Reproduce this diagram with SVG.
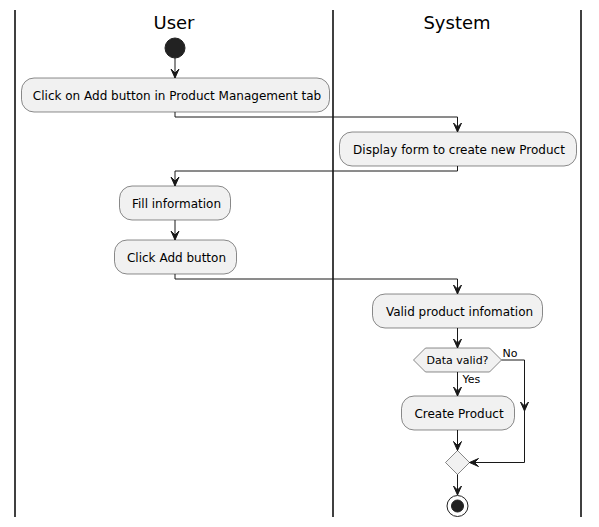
<svg xmlns="http://www.w3.org/2000/svg" width="599" height="527" viewBox="0 0 599 527">
<style>
.lane{stroke:#000;stroke-width:1.5;fill:none}
.title{font-family:"DejaVu Sans",sans-serif;font-size:18px;fill:#000;text-anchor:middle}
.act{fill:#F1F1F1;stroke:#181818;stroke-width:0.5}
.t{font-family:"DejaVu Sans",sans-serif;font-size:12px;fill:#000;text-anchor:middle}
.s{font-family:"DejaVu Sans",sans-serif;font-size:11px;fill:#000}
.ln{stroke:#181818;stroke-width:1;fill:none}
.ah{fill:#181818;stroke:#181818;stroke-width:1}
</style>
<rect width="599" height="527" fill="#FFFFFF"/>
<g id="lanes">
<line class="lane" x1="15" y1="10" x2="15" y2="517"/>
<line class="lane" x1="333" y1="10" x2="333" y2="517"/>
<line class="lane" x1="581" y1="10" x2="581" y2="517"/>
<text class="title" x="174" y="29">User</text>
<text class="title" x="457" y="29">System</text>
</g>
<g id="start"><circle cx="175" cy="48" r="10" fill="#222222" stroke="#222222" stroke-width="1"/></g>
<g id="a1"><rect class="act" x="21.5" y="78" width="308" height="34" rx="12.5"/><text class="t" x="177" y="100">Click on Add button in Product Management tab</text></g>
<g id="a2"><rect class="act" x="339.5" y="132" width="237" height="34" rx="12.5"/><text class="t" x="459" y="154">Display form to create new Product</text></g>
<g id="a3"><rect class="act" x="119.5" y="186" width="111" height="34" rx="12.5"/><text class="t" x="176.5" y="208">Fill information</text></g>
<g id="a4"><rect class="act" x="114.5" y="240" width="122" height="34" rx="12.5"/><text class="t" x="176.5" y="262">Click Add button</text></g>
<g id="a5"><rect class="act" x="372.5" y="294" width="170" height="34" rx="12.5"/><text class="t" x="459.5" y="316">Valid product infomation</text></g>
<g id="d1"><polygon class="act" points="413.5,360 425.5,348 489.5,348 501.5,360 489.5,372 425.5,372"/><text class="s" x="457.5" y="364" text-anchor="middle">Data valid?</text></g>
<g id="a6"><rect class="act" x="401.5" y="396" width="113" height="34" rx="12.5"/><text class="t" x="459" y="418">Create Product</text></g>
<g id="merge"><polygon class="act" points="457.5,450.5 469.5,462.5 457.5,474.5 445.5,462.5"/></g>
<g id="end"><circle cx="457.5" cy="506" r="10.5" fill="none" stroke="#222222" stroke-width="1"/><circle cx="457.5" cy="506" r="6" fill="#222222" stroke="#222222" stroke-width="1"/></g>
<g id="connectors">
<line class="ln" x1="175" y1="58" x2="175" y2="78"/>
<polygon class="ah" points="171,69 175,78 179,69 175,73"/>
<polyline class="ln" points="175,112 175,117 457.5,117 457.5,132"/>
<polygon class="ah" points="453.5,123 457.5,132 461.5,123 457.5,127"/>
<polyline class="ln" points="457.5,166 457.5,171 175,171 175,186"/>
<polygon class="ah" points="171,177 175,186 179,177 175,181"/>
<line class="ln" x1="175" y1="220" x2="175" y2="240"/>
<polygon class="ah" points="171,231 175,240 179,231 175,235"/>
<polyline class="ln" points="175,274 175,279 457.5,279 457.5,294"/>
<polygon class="ah" points="453.5,285 457.5,294 461.5,285 457.5,289"/>
<line class="ln" x1="457.5" y1="328" x2="457.5" y2="348"/>
<polygon class="ah" points="453.5,339 457.5,348 461.5,339 457.5,343"/>
<line class="ln" x1="457.5" y1="372" x2="457.5" y2="396"/>
<polygon class="ah" points="453.5,387 457.5,396 461.5,387 457.5,391"/>
<polyline class="ln" points="501.5,360 524.5,360 524.5,462.5 469.5,462.5"/>
<polygon class="ah" points="520.5,402 524.5,411 528.5,402 524.5,406"/>
<polygon class="ah" points="478.5,458.5 469.5,462.5 478.5,466.5 474.5,462.5"/>
<line class="ln" x1="457.5" y1="430" x2="457.5" y2="450.5"/>
<polygon class="ah" points="453.5,441.5 457.5,450.5 461.5,441.5 457.5,445.5"/>
<line class="ln" x1="457.5" y1="474.5" x2="457.5" y2="495"/>
<polygon class="ah" points="453.5,486 457.5,495 461.5,486 457.5,490"/>
<text class="s" x="502.5" y="357">No</text>
<text class="s" x="462.5" y="383">Yes</text>
</g>
</svg>
